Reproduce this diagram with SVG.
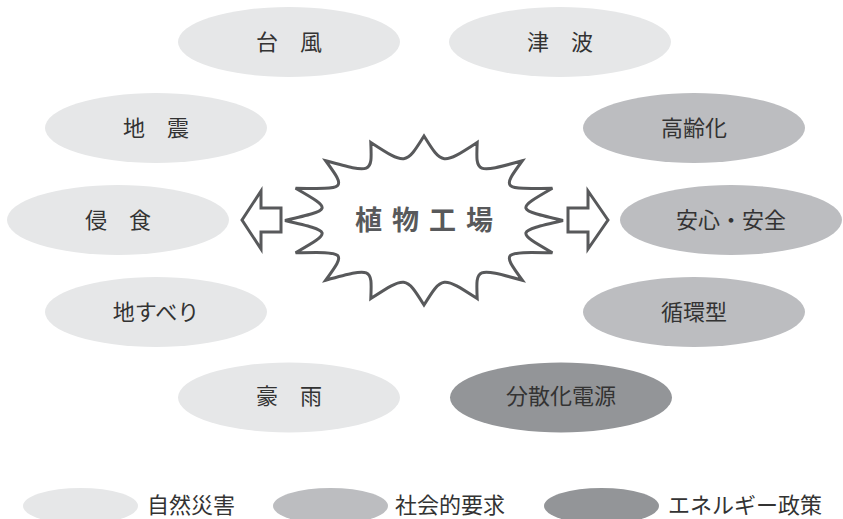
<svg xmlns="http://www.w3.org/2000/svg" width="843" height="519" viewBox="0 0 843 519">
<style>
.n1{fill:#e6e7e8}
.n2{fill:#bcbdc0}
.n3{fill:#939598}
.lbl{font-family:"Noto Sans CJK JP","Noto Sans",sans-serif;font-size:22px;fill:#333333;text-anchor:middle}
.leg{font-family:"Noto Sans CJK JP","Noto Sans",sans-serif;font-size:22px;fill:#333333}
.title{font-family:"Noto Sans CJK JP","Noto Sans",sans-serif;font-size:27px;font-weight:bold;fill:#58595b;letter-spacing:10px}
.ol{fill:#ffffff;stroke:#58595b;stroke-width:3;stroke-linejoin:miter}
</style>
<rect width="843" height="519" fill="#ffffff"/>
<g id="n-taifu"><ellipse class="n1" cx="289" cy="42" rx="111" ry="35"/><text class="lbl" x="289" y="50">台　風</text></g>
<g id="n-tsunami"><ellipse class="n1" cx="560" cy="42" rx="111" ry="35"/><text class="lbl" x="560" y="50">津　波</text></g>
<g id="n-jishin"><ellipse class="n1" cx="156" cy="128" rx="111" ry="35"/><text class="lbl" x="156" y="136">地　震</text></g>
<g id="n-koreika"><ellipse class="n2" cx="694" cy="128" rx="111" ry="35"/><text class="lbl" x="694" y="136">高齢化</text></g>
<g id="n-shinshoku"><ellipse class="n1" cx="118" cy="220" rx="111" ry="35"/><text class="lbl" x="118" y="228">侵　食</text></g>
<g id="n-anshin"><ellipse class="n2" cx="731" cy="220" rx="111" ry="35"/><text class="lbl" x="731" y="228">安心・安全</text></g>
<g id="n-jisuberi"><ellipse class="n1" cx="156" cy="312" rx="111" ry="35"/><text class="lbl" x="156" y="320">地すべり</text></g>
<g id="n-junkan"><ellipse class="n2" cx="694" cy="312" rx="111" ry="35"/><text class="lbl" x="694" y="320">循環型</text></g>
<g id="n-gou"><ellipse class="n1" cx="289" cy="397.5" rx="111" ry="35"/><text class="lbl" x="289" y="404">豪　雨</text></g>
<g id="n-bunsan"><ellipse class="n3" cx="561" cy="397.5" rx="111" ry="35"/><text class="lbl" x="561" y="404">分散化電源</text></g>
<g id="n-center">
<path class="ol" d="M563,220.5 C515.4,209.5 515.4,209.5 552.4,188.2 C501.55,189.2 501.55,189.2 522.3,160.75 C475.8,173.6 475.8,173.6 477.2,142.4 C442.2,165.2 442.2,165.2 424,136 C405.8,165.2 405.8,165.2 370.8,142.4 C372.2,173.6 372.2,173.6 325.7,160.75 C346.45,189.2 346.45,189.2 295.6,188.2 C332.6,209.5 332.6,209.5 285,220.5 C332.6,231.5 332.6,231.5 295.6,252.8 C346.45,251.8 346.45,251.8 325.7,280.25 C372.2,267.4 372.2,267.4 370.8,298.6 C405.8,275.8 405.8,275.8 424,305 C442.2,275.8 442.2,275.8 477.2,298.6 C475.8,267.4 475.8,267.4 522.3,280.25 C501.55,251.8 501.55,251.8 552.4,252.8 C515.4,231.5 515.4,231.5 563,220.5 Z"/>
<text class="title" x="355" y="230">植物工場</text>
</g>
<g id="connectors">
<path class="ol" stroke-width="2.5" d="M242,220 L261,191 L261,208 L281,208 L281,232 L261,232 L261,249 Z"/>
<path class="ol" stroke-width="2.5" d="M608,220 L588,191 L588,208 L568,208 L568,232 L588,232 L588,249 Z"/>
</g>
<g id="legend">
<g id="leg1"><ellipse class="n1" cx="80.5" cy="506" rx="57.5" ry="18"/><text class="leg" x="147" y="513">自然災害</text></g>
<g id="leg2"><ellipse class="n2" cx="330.5" cy="506" rx="57.5" ry="18"/><text class="leg" x="395" y="513">社会的要求</text></g>
<g id="leg3"><ellipse class="n3" cx="601.5" cy="506" rx="57.5" ry="18"/><text class="leg" x="668" y="513">エネルギー政策</text></g>
</g>
</svg>
